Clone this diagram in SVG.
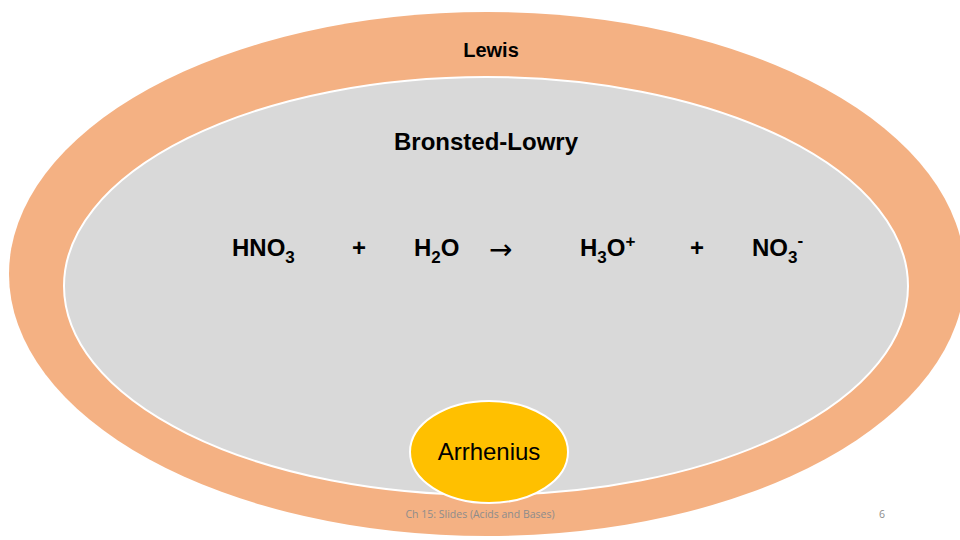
<svg xmlns="http://www.w3.org/2000/svg" width="960" height="540" viewBox="0 0 960 540">
<style>
.lbl{font-family:"Liberation Sans","Open Sans",sans-serif;font-weight:bold;fill:#000}
.eq{font-family:"Liberation Sans",Arial,sans-serif;font-weight:bold;font-size:24px;fill:#000}
.ft{font-family:"Open Sans","Liberation Sans",sans-serif;font-size:10.5px;fill:#8c8c8c}
</style>
<rect width="960" height="540" fill="#ffffff"/>
<g id="lewis">
<ellipse cx="487" cy="274" rx="478" ry="262" fill="#F4B183"/>
<text class="lbl" x="491" y="57" font-size="20" text-anchor="middle">Lewis</text>
</g>
<g id="bronsted">
<ellipse cx="486" cy="286" rx="422" ry="209" fill="#D9D9D9" stroke="#ffffff" stroke-width="2"/>
<text class="lbl" x="486" y="150" font-size="24" text-anchor="middle">Bronsted-Lowry</text>
</g>
<g id="equation">
<text class="eq" x="232" y="256">HNO<tspan font-size="17" dy="7">3</tspan></text>
<text class="eq" x="352" y="256">+</text>
<text class="eq" x="414" y="256">H<tspan font-size="17" dy="7">2</tspan><tspan dy="-7">O</tspan></text>
<text x="489" y="259" font-family="DejaVu Sans,sans-serif" font-size="28" fill="#000">→</text>
<text class="eq" x="580" y="256">H<tspan font-size="17" dy="7">3</tspan><tspan dy="-7">O</tspan><tspan font-size="17" dy="-9">+</tspan></text>
<text class="eq" x="690" y="256">+</text>
<text class="eq" x="752" y="256">NO<tspan font-size="17" dy="7">3</tspan><tspan font-size="17" dy="-17">-</tspan></text>
</g>
<g id="arrhenius">
<ellipse cx="489" cy="452" rx="79" ry="51" fill="#FFC000" stroke="#ffffff" stroke-width="2"/>
<text x="489" y="460" font-family="Liberation Sans,Open Sans,sans-serif" font-size="24" text-anchor="middle" fill="#000">Arrhenius</text>
</g>
<g id="footer">
<text class="ft" x="480" y="518" text-anchor="middle">Ch 15: Slides (Acids and Bases)</text>
<text class="ft" x="882" y="518" text-anchor="middle">6</text>
</g>
</svg>
